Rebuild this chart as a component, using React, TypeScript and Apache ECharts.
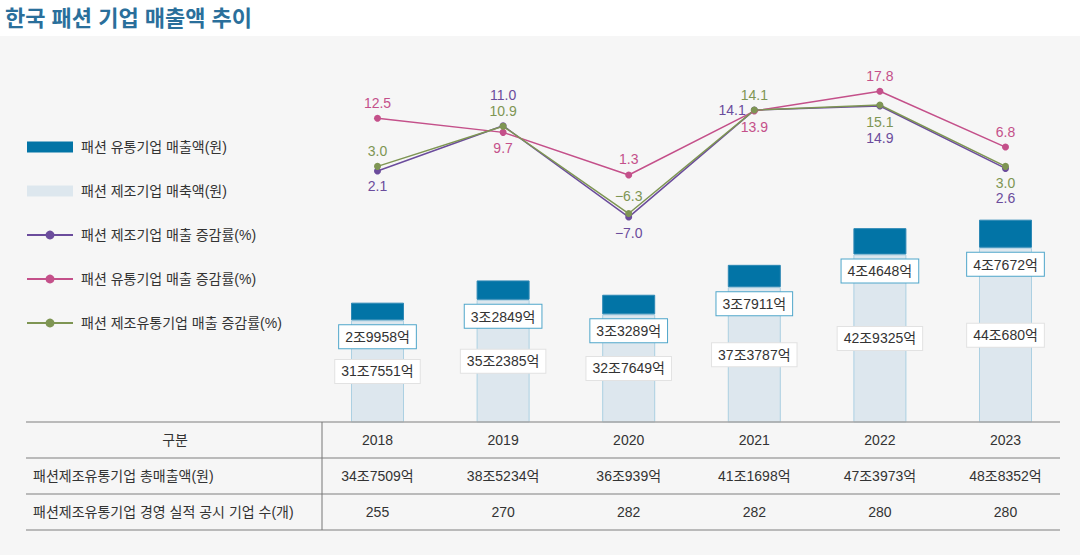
import React, { useEffect, useRef } from 'react';
import * as echarts from 'echarts';

// ---- data (sales in 억원, growth in %) ----
const years = ['2018', '2019', '2020', '2021', '2022', '2023'];
const retailSales = [29958, 32849, 33289, 37911, 44648, 47672];
const makerSales = [317551, 352385, 327649, 373787, 429325, 440680];
const makerGrowth = [2.1, 11.0, -7.0, 14.1, 14.9, 2.6];
const retailGrowth = [12.5, 9.7, 1.3, 13.9, 17.8, 6.8];
const totalGrowth = [3.0, 10.9, -6.3, 14.1, 15.1, 3.0];
const totalSales = [347509, 385234, 360939, 411698, 473973, 488352];
const companyCounts = [255, 270, 282, 282, 280, 280];
const rowHeaders = ['구분', '패션제조유통기업 총매출액(원)', '패션제조유통기업 경영 실적 공시 기업 수(개)'];
const seriesNames = [
  '패션 유통기업 매출액(원)',
  '패션 제조기업 매축액(원)',
  '패션 제조기업 매출 증감률(%)',
  '패션 유통기업 매출 증감률(%)',
  '패션 제조유통기업 매출 증감률(%)',
];

// ---- label placement (style only) ----
const makerPos = [['bottom', 0], ['top', -15], ['bottom', 0], ['left', 0], ['bottom', 17], ['bottom', 14]];
const retailPos = [['top', 0], ['bottom', 0], ['top', 0], ['bottom', 0], ['top', 0], ['top', 0]];
const totalPos = [['top', 0], ['top', 0], ['top', -2], ['top', 0], ['bottom', 2], ['bottom', 1]];

const FONT = "'Liberation Sans', 'Noto Sans CJK KR', sans-serif";
const won = (v: number) => `${Math.floor(v / 10000)}조${v % 10000}억`;
const pct = (v: number) => (v < 0 ? '−' : '') + Math.abs(v).toFixed(1);

const PURPLE = '#6b4c9c';
const PINK = '#c4508a';
const GREEN = '#7e9553';

function lineSeries(name: string, values: number[], pos: any[], color: string) {
  return {
    name,
    type: 'line',
    xAxisIndex: 0,
    yAxisIndex: 1,
    z: 5,
    symbol: 'circle',
    symbolSize: 7,
    lineStyle: { color, width: 1.5 },
    itemStyle: { color },
    label: {
      show: true,
      color,
      fontSize: 14,
      fontFamily: FONT,
      formatter: (p: any) => pct(p.value),
    },
    data: values.map((v, i) => ({
      value: v,
      label: { position: pos[i][0], offset: [0, pos[i][1]] },
    })),
  };
}

export default function App() {
  const ref = useRef<HTMLDivElement>(null);
  useEffect(() => {
    if (!ref.current) return;
    const chart = echarts.init(ref.current, null, { renderer: 'svg' });
    const tableLeft = 26;
    const tableRight = 1060;
    const rows = [422, 458, 494, 530];
    const graphics: any[] = [
      { type: 'rect', z: -10, shape: { x: 0, y: 0, width: 1080, height: 36 }, style: { fill: '#ffffff' } },
    ];
    rows.forEach((y) => {
      graphics.push({
        type: 'line',
        z: 10,
        shape: { x1: tableLeft, y1: y, x2: tableRight, y2: y },
        style: { stroke: '#a6a6a6', lineWidth: 1.5 },
      });
    });
    graphics.push({
      type: 'line',
      z: 10,
      shape: { x1: 322, y1: rows[0], x2: 322, y2: rows[3] },
      style: { stroke: '#777777', lineWidth: 1 },
    });
    rowHeaders.forEach((t, i) => {
      graphics.push({
        type: 'text',
        z: 10,
        x: i === 0 ? 175 : 33,
        y: (rows[i] + rows[i + 1]) / 2,
        style: {
          text: t,
          fill: '#333333',
          font: `14px ${FONT}`,
          align: i === 0 ? 'center' : 'left',
          verticalAlign: 'middle',
        },
      });
    });

    const axisBase = {
      type: 'category',
      data: years,
      gridIndex: 0,
      position: 'bottom',
      axisLine: { show: false },
      axisTick: { show: false },
      splitLine: { show: false },
    };

    chart.setOption({
      animation: false,
      backgroundColor: '#f6f6f6',
      textStyle: { fontFamily: FONT },
      title: {
        text: '한국 패션 기업 매출액 추이',
        left: 0,
        top: 2,
        textStyle: { fontSize: 22, fontWeight: 'bold', color: '#2a6f9b', fontFamily: FONT },
      },
      legend: {
        orient: 'vertical',
        left: 21,
        top: 135,
        itemWidth: 46,
        itemHeight: 11,
        itemGap: 30,
        textStyle: { fontSize: 14, color: '#333333', fontFamily: FONT, padding: [0, 0, 0, 3] },
        data: [
          { name: seriesNames[0], icon: 'rect', itemStyle: { borderWidth: 0 } },
          { name: seriesNames[1], icon: 'rect', itemStyle: { borderWidth: 0 } },
          { name: seriesNames[2] },
          { name: seriesNames[3] },
          { name: seriesNames[4] },
        ],
      },
      graphic: graphics,
      grid: { left: 314.7, right: 11.7, top: 36, bottom: 133 },
      xAxis: [
        { ...axisBase, axisLabel: { margin: 11, fontSize: 14, color: '#333333', fontFamily: FONT } },
        {
          ...axisBase,
          offset: 36,
          axisLabel: {
            margin: 11,
            fontSize: 14,
            color: '#333333',
            fontFamily: FONT,
            formatter: (_v: string, i: number) => won(totalSales[i]),
          },
        },
        {
          ...axisBase,
          offset: 72,
          axisLabel: {
            margin: 11,
            fontSize: 14,
            color: '#333333',
            fontFamily: FONT,
            formatter: (_v: string, i: number) => String(companyCounts[i]),
          },
        },
      ],
      yAxis: [
        { type: 'value', min: 145000, max: 800000, show: false, splitLine: { show: false } },
        { type: 'value', min: -47.4, max: 28.7, show: false, splitLine: { show: false } },
      ],
      series: [
        {
          name: seriesNames[1],
          type: 'bar',
          stack: 'sales',
          xAxisIndex: 0,
          yAxisIndex: 0,
          barWidth: 53,
          itemStyle: { color: '#dde7ee', borderColor: '#acd0e2', borderWidth: 1 },
          label: {
            show: true,
            position: 'inside',
            formatter: (p: any) => won(p.value),
            backgroundColor: '#ffffff',
            borderColor: '#e2e2e2',
            borderWidth: 1,
            padding: [5, 6, 4, 6],
            color: '#333333',
            fontSize: 14,
            fontFamily: FONT,
          },
          data: makerSales,
        },
        {
          name: seriesNames[0],
          type: 'bar',
          stack: 'sales',
          xAxisIndex: 0,
          yAxisIndex: 0,
          barWidth: 53,
          itemStyle: { color: '#0274a6', borderColor: '#2d88b5', borderWidth: 1 },
          label: {
            show: true,
            position: 'bottom',
            distance: 5,
            formatter: (p: any) => won(p.value),
            backgroundColor: '#ffffff',
            borderColor: '#4fa6ca',
            borderWidth: 1,
            padding: [5, 6, 4, 6],
            color: '#333333',
            fontSize: 14,
            fontFamily: FONT,
          },
          data: retailSales,
        },
        lineSeries(seriesNames[2], makerGrowth, makerPos, PURPLE),
        lineSeries(seriesNames[3], retailGrowth, retailPos, PINK),
        lineSeries(seriesNames[4], totalGrowth, totalPos, GREEN),
      ],
    });
    return () => chart.dispose();
  }, []);
  return (
    <div
      ref={ref}
      style={{ position: 'absolute', left: 0, top: 0, width: 1080, height: 555 }}
    />
  );
}
